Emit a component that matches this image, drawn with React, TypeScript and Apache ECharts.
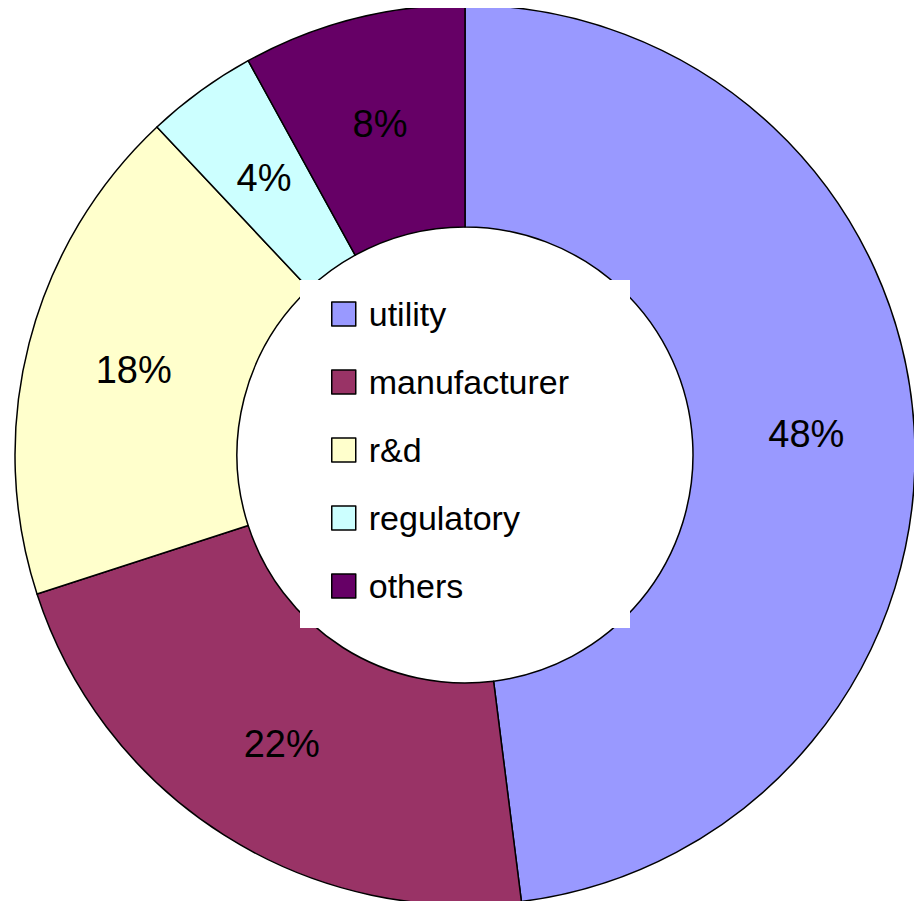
import React, { useEffect, useRef } from "react";
import * as echarts from "echarts";

const categories = ["utility", "manufacturer", "r&d", "regulatory", "others"];
const values = [48, 22, 18, 4, 8];
const colors = ["#9999FF", "#993366", "#FFFFCC", "#CCFFFF", "#660066"];

export default function App() {
  const ref = useRef<HTMLDivElement>(null);
  useEffect(() => {
    if (!ref.current) return;
    const chart = echarts.init(ref.current, undefined, { renderer: "svg" });
    chart.setOption({
      animation: false,
      backgroundColor: "#ffffff",
      color: colors,
      graphic: [
        {
          type: "rect",
          z: 3,
          shape: { x: 292, y: 272, width: 330, height: 348 },
          style: { fill: "#ffffff" },
        },
      ],
      legend: {
        orient: "vertical",
        left: 318,
        top: 284,
        itemWidth: 24,
        itemHeight: 24,
        itemGap: 34,
        icon: "rect",
        z: 5,
        itemStyle: { borderColor: "#000", borderWidth: 1.5 },
        textStyle: {
          fontFamily: "Liberation Sans, Arial, sans-serif",
          fontSize: 34,
          lineHeight: 34,
          color: "#000",
          padding: [0, 0, 0, 8],
        },
        data: categories,
      },
      series: [
        {
          type: "pie",
          center: [457, 447],
          radius: [228, 450],
          startAngle: 90,
          clockwise: true,
          z: 2,
          itemStyle: { borderColor: "#000", borderWidth: 1.5 },
          label: {
            show: true,
            position: "inside",
            formatter: "{d}%",
            fontFamily: "Liberation Sans, Arial, sans-serif",
            fontSize: 38,
            color: "#000",
          },
          labelLine: { show: false },
          emphasis: { disabled: true },
          data: categories.map((c, i) => ({ name: c, value: values[i] })),
        },
      ],
    });
    return () => chart.dispose();
  }, []);
  return <div ref={ref} style={{ width: 906, height: 893 }} />;
}
